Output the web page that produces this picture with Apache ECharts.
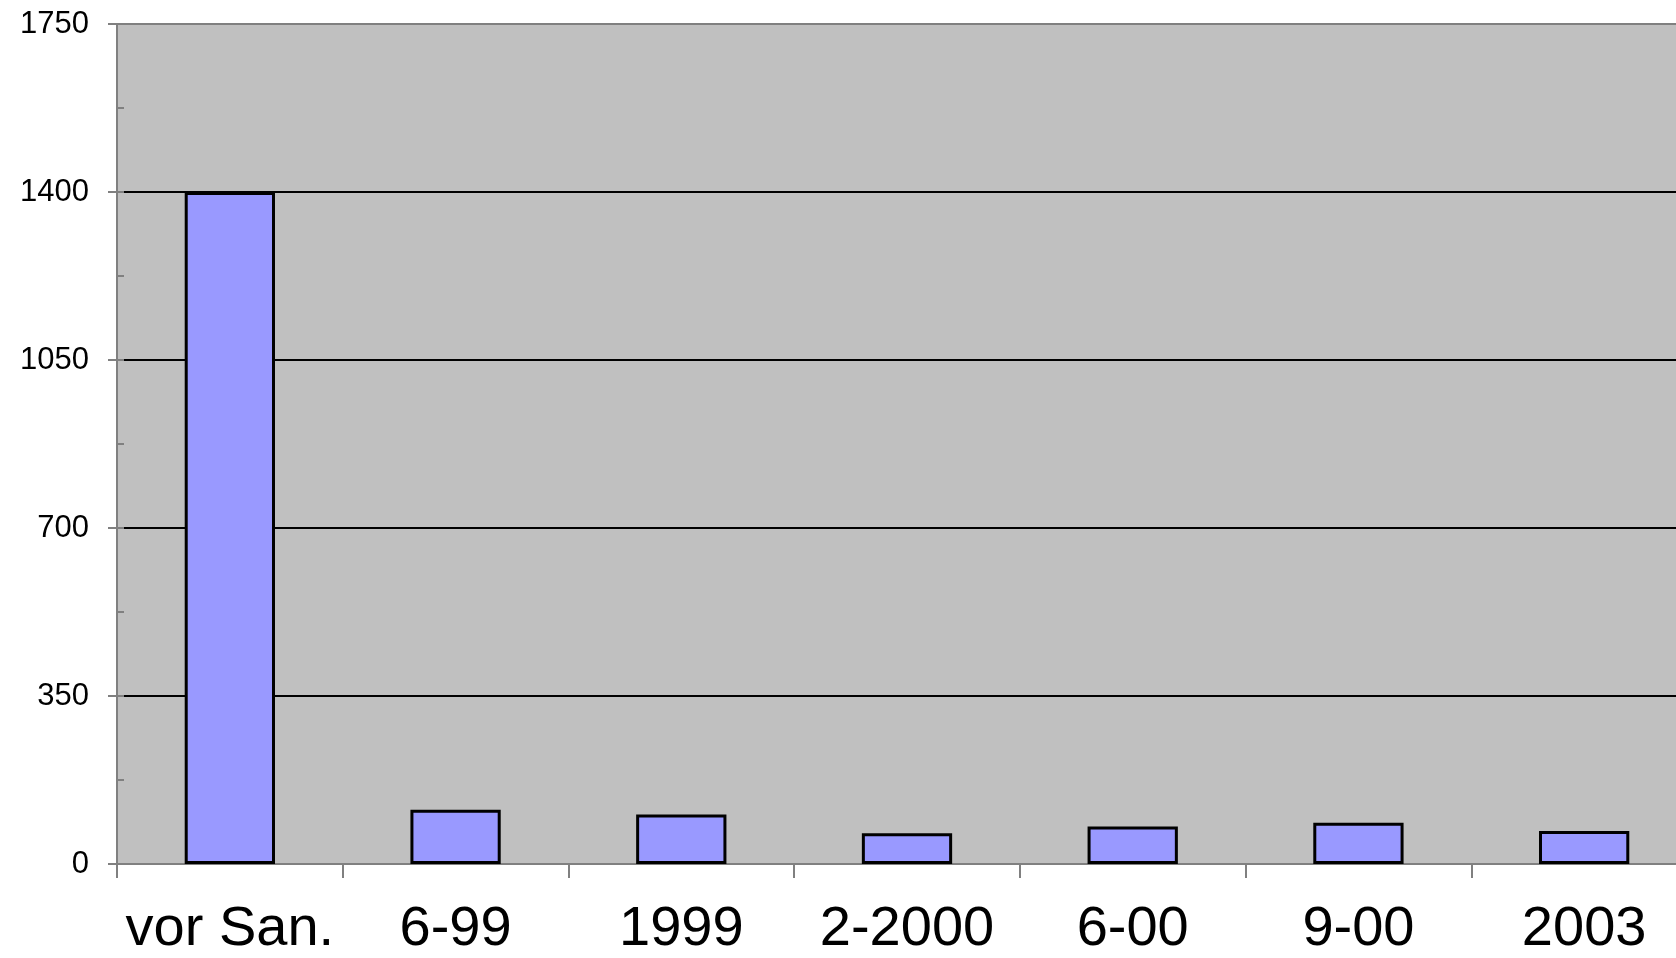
<!DOCTYPE html>
<html>
<head>
<meta charset="utf-8">
<script src="https://cdn.jsdelivr.net/npm/echarts@6/dist/echarts.min.js"></script>
<style>
  html, body { margin: 0; padding: 0; background: #ffffff; }
  #chart { width: 1676px; height: 958px; }
</style>
</head>
<body>
<div id="chart"></div>
<script>
// Measurement periods and their values
const categories = ['vor San.', '6-99', '1999', '2-2000', '6-00', '9-00', '2003'];
const values = [1400, 113, 103, 64, 78, 86, 69];
const yMin = 0;
const yMax = 1750;
const yStep = 350;
const yMinorStep = 175;

const FONT = '"Liberation Sans", Arial, sans-serif';
const AXIS_GREY = '#808080';

const chart = echarts.init(document.getElementById('chart'));

chart.setOption({
  animation: false,
  backgroundColor: '#ffffff',
  grid: {
    left: 117,
    top: 24,
    bottom: 94,
    width: 1580,
    outerBoundsMode: 'none',
    containLabel: false,
    show: true,
    backgroundColor: '#C0C0C0',
    borderColor: AXIS_GREY,
    borderWidth: 2
  },
  xAxis: {
    type: 'category',
    data: categories,
    boundaryGap: true,
    axisLine: { show: true, lineStyle: { color: AXIS_GREY, width: 2 } },
    axisTick: { show: true, alignWithLabel: false, length: 14, lineStyle: { color: AXIS_GREY, width: 2 } },
    axisLabel: { color: '#000000', fontSize: 56, fontFamily: FONT, margin: 38, interval: 0 },
    splitLine: { show: false }
  },
  yAxis: [
    {
      type: 'value',
      min: yMin,
      max: yMax,
      interval: yStep,
      axisLine: { show: true, lineStyle: { color: AXIS_GREY, width: 2 } },
      axisTick: { show: true, length: 9, lineStyle: { color: AXIS_GREY, width: 2 } },
      axisLabel: {
        color: '#000000',
        fontSize: 31,
        fontFamily: FONT,
        margin: 28,
        formatter: (v) => String(v)
      },
      splitLine: {
        show: true,
        lineStyle: {
          color: [AXIS_GREY, '#000000', '#000000', '#000000', '#000000', AXIS_GREY],
          width: 2
        }
      }
    },
    {
      // inward half-step ticks along the value axis
      type: 'value',
      position: 'left',
      min: yMin,
      max: yMax,
      interval: yMinorStep,
      axisLine: { show: false },
      axisTick: { show: true, inside: true, length: 7, lineStyle: { color: AXIS_GREY, width: 2 } },
      axisLabel: { show: false },
      splitLine: { show: false }
    }
  ],
  series: [
    {
      type: 'bar',
      data: values,
      yAxisIndex: 0,
      barWidth: '40%',
      itemStyle: { color: '#9999FF', borderColor: '#000000', borderWidth: 3 },
      z: 3
    }
  ]
});
</script>
</body>
</html>
